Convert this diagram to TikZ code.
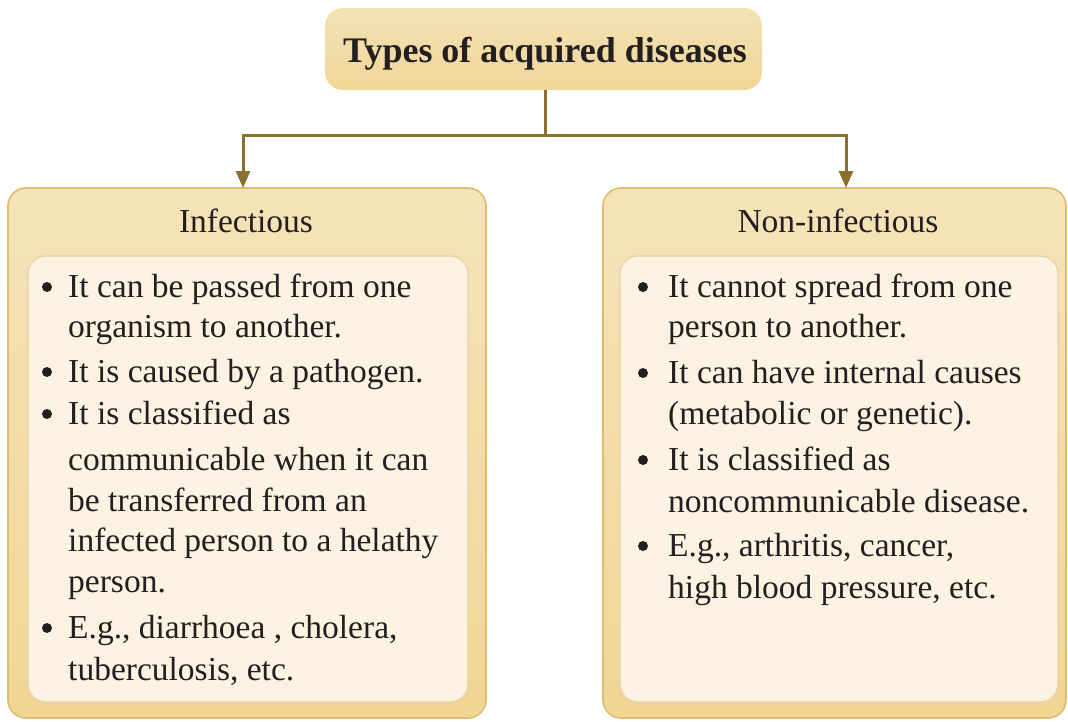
\documentclass[tikz,border=0pt]{standalone}
\usepackage{fontspec}
\setmainfont{Liberation Serif}
\usetikzlibrary{calc,arrows.meta}
\definecolor{outerfill}{HTML}{F0D594}
\definecolor{outertop}{HTML}{F5E3B8}
\definecolor{outerdraw}{HTML}{DFBB6E}
\definecolor{innerfill}{HTML}{FBF2E2}
\definecolor{innerdraw}{HTML}{E8D2A6}
\definecolor{titlefill}{HTML}{F0D698}
\definecolor{titletop}{HTML}{F4E2B4}
\definecolor{conn}{HTML}{8B6F2E}
\definecolor{txt}{HTML}{231F20}
\tikzset{
  x=1pt, y=-1pt,
  outerbox/.style={draw=outerdraw, line width=1.6pt, rounded corners=18pt,
    top color=outertop, bottom color=outerfill, minimum width=#1, minimum height=530pt,
    inner sep=0pt},
  innerbox/.style={draw=innerdraw, line width=1.2pt, rounded corners=18pt, fill=innerfill,
    minimum width=#1, minimum height=446pt, inner sep=0pt},
  titlebox/.style={top color=titletop, bottom color=titlefill, rounded corners=18pt, minimum width=437pt,
    minimum height=82pt, inner sep=0pt},
  titletext/.style={font=\fontsize{36}{40}\selectfont\bfseries, text=txt, anchor=base},
  headtext/.style={font=\fontsize{33.5}{40}\selectfont, text=txt, anchor=base},
  bodytext/.style={font=\fontsize{33.5}{40}\selectfont, text=txt, anchor=base west, inner sep=0pt},
  bul/.style={circle, fill=txt, minimum size=10pt, inner sep=0pt},
  connector/.style={draw=conn, line width=3pt},
  arrowc/.style={connector, -{Triangle[length=17pt,width=14pt]}}
}
\begin{document}
\begin{tikzpicture}
\useasboundingbox (0,0) rectangle (1068,721);
% title
\node[titlebox] (title) at (543.5,49) {};
\node[titletext] (titlet) at (545,62) {Types of acquired diseases};
% outer boxes
\node[outerbox=478pt] (left) at (247,453) {};
\node[outerbox=463pt] (right) at (834.5,453) {};
% inner boxes
\node[innerbox=440pt] (linner) at (248,479) {};
\node[innerbox=438pt] (rinner) at (839,479) {};
% headings
\node[headtext] (lhead) at (246,232) {Infectious};
\node[headtext] (rhead) at (838,232) {Non-infectious};
% connectors
\coordinate (j) at (545,135);
\coordinate (la) at (243,188);
\coordinate (ra) at (846,188);
\draw[connector] (title.south -| j) -- (j);
\draw[arrowc] (j) -| (la);
\draw[arrowc] (j) -| (ra);
% left text
\node[bul] (lb1) at (47,287) {};
\node[bodytext] (l1) at (68,297) {It can be passed from one};
\node[bodytext] (l2) at (68,337) {organism to another.};
\node[bul] (lb2) at (47,372) {};
\node[bodytext] (l3) at (68,382) {It is caused by a pathogen.};
\node[bul] (lb3) at (47,414) {};
\node[bodytext] (l4) at (68,424) {It is classified as};
\node[bodytext] (l5) at (68,470) {communicable when it can};
\node[bodytext] (l6) at (68,511) {be transferred from an};
\node[bodytext] (l7) at (68,551) {infected person to a helathy};
\node[bodytext] (l8) at (68,592) {person.};
\node[bul] (lb4) at (47,628) {};
\node[bodytext] (l9) at (68,638) {E.g., diarrhoea , cholera,};
\node[bodytext] (l10) at (68,680) {tuberculosis, etc.};
% right text
\node[bul] (rb1) at (643,287) {};
\node[bodytext] (r1) at (668,297) {It cannot spread from one};
\node[bodytext] (r2) at (668,337) {person to another.};
\node[bul] (rb2) at (643,373) {};
\node[bodytext] (r3) at (668,383) {It can have internal causes};
\node[bodytext] (r4) at (668,424) {(metabolic or genetic).};
\node[bul] (rb3) at (643,460) {};
\node[bodytext] (r5) at (668,470) {It is classified as};
\node[bodytext] (r6) at (668,512) {noncommunicable disease.};
\node[bul] (rb4) at (643,546) {};
\node[bodytext] (r7) at (668,556) {E.g., arthritis, cancer,};
\node[bodytext] (r8) at (668,598) {high blood pressure, etc.};
\end{tikzpicture}
\end{document}
